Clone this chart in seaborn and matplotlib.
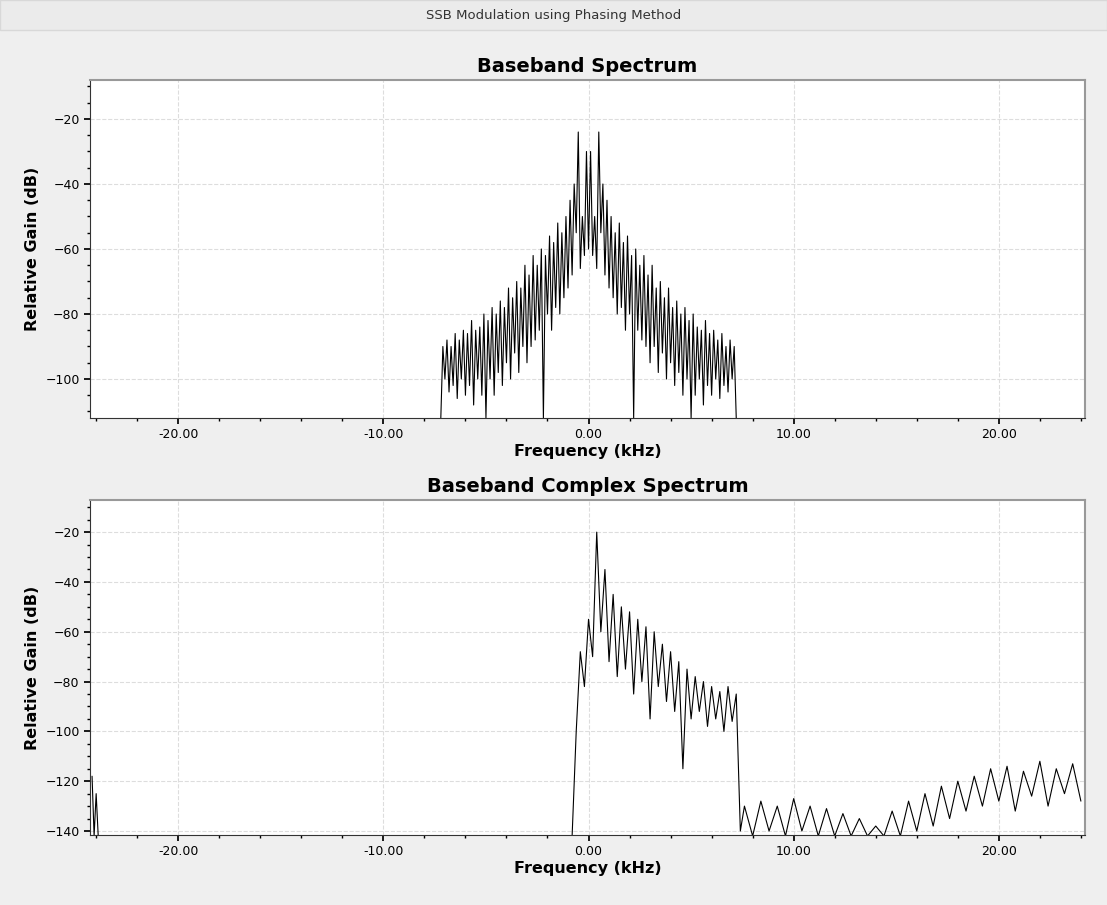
import numpy as np
import pandas as pd
import seaborn as sns
from matplotlib import pyplot as plt
from matplotlib.patches import Rectangle
from matplotlib.ticker import MultipleLocator, FormatStrFormatter

# baseband spectrum, positive half (0.1 kHz steps); negative half is its mirror
bb_freq_pos = [round(0.1 * i, 1) for i in range(73)]
bb_gain_pos = [-60, -30, -62, -50, -66, -24, -55, -40, -68, -45,
               -72, -50, -75, -55, -80, -52, -78, -58, -85, -56,
               -80, -62, -112, -60, -85, -65, -88, -62, -90, -68,
               -95, -65, -90, -72, -98, -70, -92, -75, -100, -72,
               -95, -78, -102, -76, -98, -80, -105, -78, -100, -82,
               -112, -80, -105, -84, -100, -85, -108, -82, -102, -86,
               -105, -85, -100, -88, -106, -86, -102, -90, -104, -88,
               -100, -90, -112]

# complex spectrum pieces
cx_edge_freq = [-24.2, -24.1, -24.0, -23.9]
cx_edge_gain = [-118, -142, -125, -142]
cx_main_freq = [round(-0.8 + 0.2 * i, 1) for i in range(42)]
cx_main_gain = [-142, -100, -68, -82, -55, -70, -20, -60, -35, -72,
                -45, -78, -50, -75, -52, -85, -55, -80, -58, -95,
                -60, -82, -65, -88, -68, -92, -72, -115, -75, -95,
                -78, -92, -80, -98, -82, -95, -84, -100, -82, -96,
                -85, -140]
cx_tail_freq = [round(7.6 + 0.4 * i, 1) for i in range(42)]
cx_tail_gain = [-130, -142, -128, -140, -130, -142, -127, -140, -130, -142,
                -131, -142, -133, -142, -135, -142, -138, -142, -132, -142,
                -128, -140, -125, -138, -122, -135, -120, -132, -118, -130,
                -115, -128, -114, -132, -116, -126, -112, -130, -115, -125,
                -113, -128]

bb = pd.DataFrame({
    "freq": [-f for f in bb_freq_pos[::-1]] + bb_freq_pos[1:],
    "gain": bb_gain_pos[::-1] + bb_gain_pos[1:],
})
cx_edge = pd.DataFrame({"freq": cx_edge_freq, "gain": cx_edge_gain})
cx = pd.DataFrame({"freq": cx_main_freq + cx_tail_freq, "gain": cx_main_gain + cx_tail_gain})

sns.set_theme(style="white")
plt.rcParams["font.family"] = ["DejaVu Sans"]
plt.rcParams["text.color"] = "black"
plt.rcParams["axes.labelcolor"] = "black"
plt.rcParams["xtick.color"] = "black"
plt.rcParams["ytick.color"] = "black"

fig = plt.figure(figsize=(11.07, 9.05), dpi=100, facecolor="#efefef")
# window title bar
fig.patches.append(Rectangle((0, 1 - 30 / 905), 1, 30 / 905, transform=fig.transFigure,
                             facecolor="#ebebeb", edgecolor="#d8d8d8", zorder=0))
fig.text(0.5, 1 - 16 / 905, "SSB Modulation using Phasing Method", ha="center", va="center",
         fontsize=9.5, color="#333333")


def style_axes(ax, ylim, title):
    ax.set_facecolor("white")
    ax.set_xlim(-24.3, 24.2)
    ax.set_ylim(*ylim)
    ax.xaxis.set_major_locator(MultipleLocator(10))
    ax.xaxis.set_minor_locator(MultipleLocator(2))
    ax.xaxis.set_major_formatter(FormatStrFormatter("%.2f"))
    ax.yaxis.set_major_locator(MultipleLocator(20))
    ax.yaxis.set_minor_locator(MultipleLocator(5))
    ax.grid(True, which="major", color="#dddddd", linestyle="--", linewidth=0.8)
    ax.tick_params(which="both", direction="out", length=4, labelsize=9, bottom=True, left=True)
    ax.tick_params(which="minor", length=2)
    for s in ("top", "right"):
        ax.spines[s].set_color("#999999")
        ax.spines[s].set_linewidth(1.5)
    for s in ("left", "bottom"):
        ax.spines[s].set_color("#333333")
        ax.spines[s].set_linewidth(0.8)
    ax.set_xlabel("Frequency (kHz)", fontsize=11.5, fontweight="bold", labelpad=2)
    ax.set_ylabel("Relative Gain (dB)", fontsize=11.5, fontweight="bold")
    ax.set_title(title, fontsize=14, fontweight="bold", pad=6)


ax1 = fig.add_axes([90 / 1107, 1 - 418 / 905, 995 / 1107, 338 / 905])
sns.lineplot(data=bb, x="freq", y="gain", ax=ax1, color="black", linewidth=0.8,
             estimator=None, sort=False)
style_axes(ax1, (-112, -8), "Baseband Spectrum")

ax2 = fig.add_axes([90 / 1107, 1 - 835 / 905, 995 / 1107, 335 / 905])
sns.lineplot(data=cx_edge, x="freq", y="gain", ax=ax2, color="black", linewidth=0.8,
             estimator=None, sort=False)
sns.lineplot(data=cx, x="freq", y="gain", ax=ax2, color="black", linewidth=0.8,
             estimator=None, sort=False)
style_axes(ax2, (-141.6, -7.1), "Baseband Complex Spectrum")

fig.savefig("out.png", dpi=100, facecolor=fig.get_facecolor())
